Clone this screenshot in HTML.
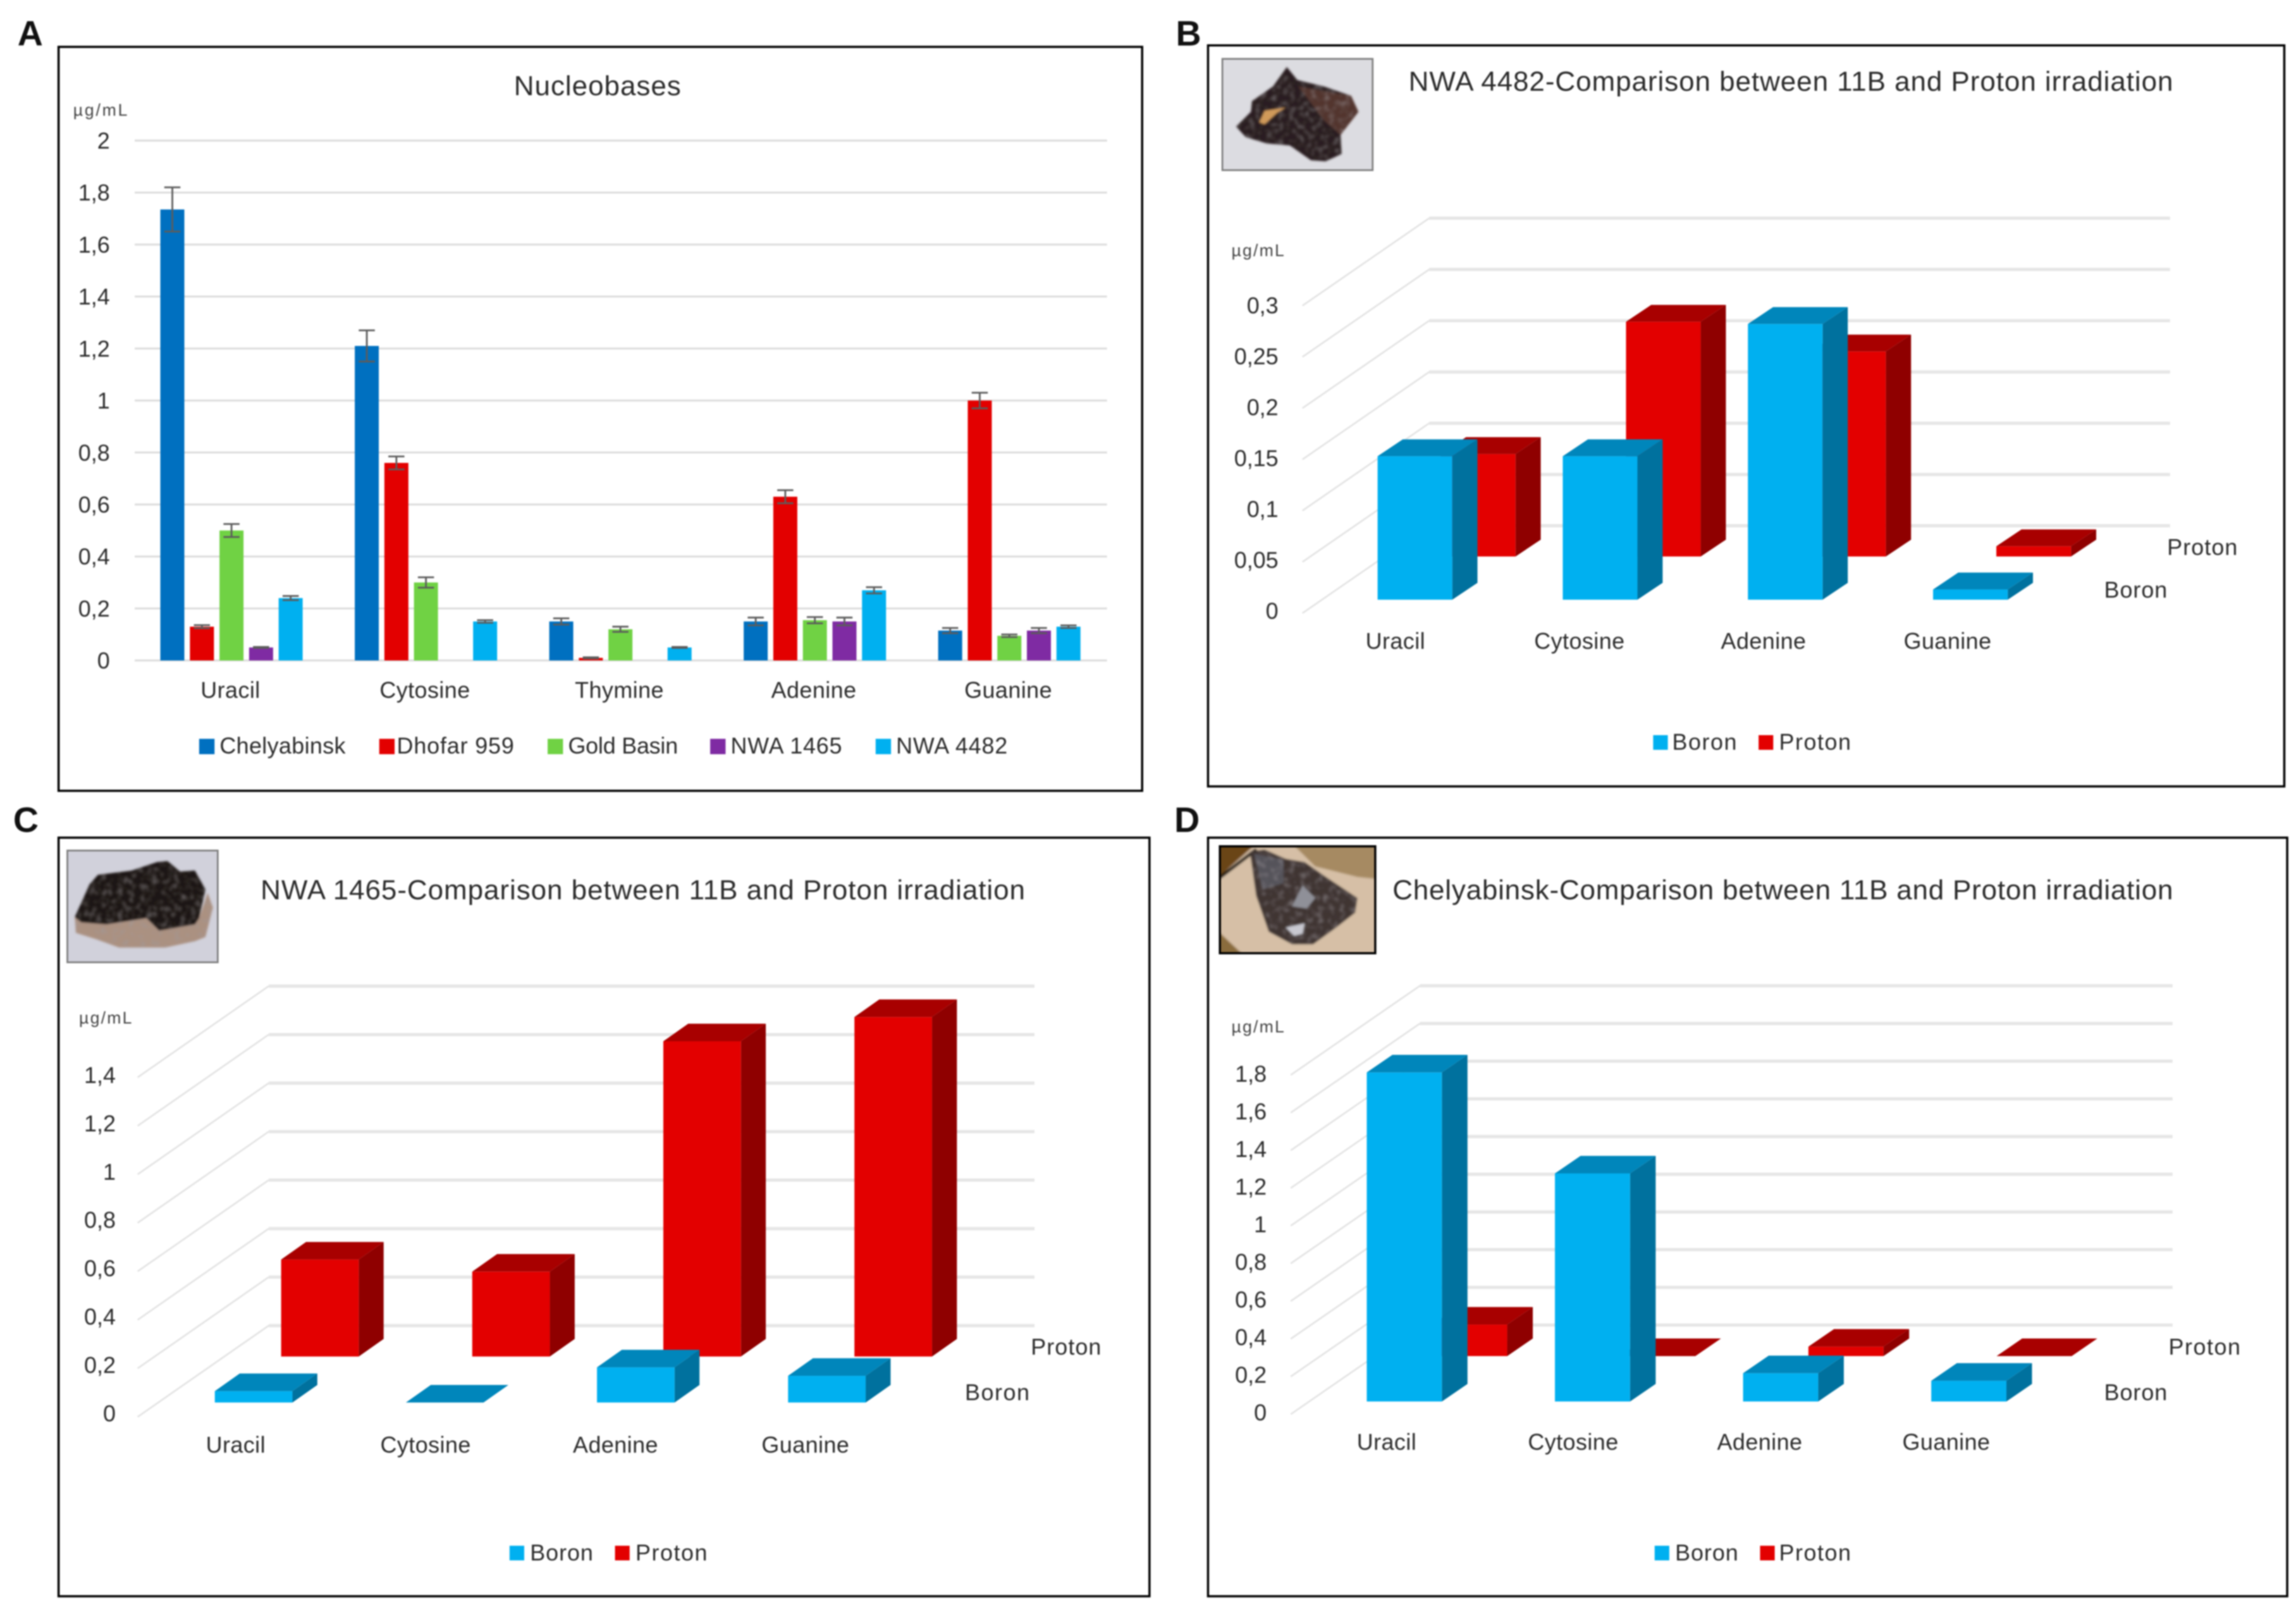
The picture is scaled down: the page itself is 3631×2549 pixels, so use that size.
<!DOCTYPE html>
<html lang="en">
<head>
<meta charset="utf-8">
<title>Nucleobases irradiation charts</title>
<style>
html,body{margin:0;padding:0;background:#fff;width:3631px;height:2549px;overflow:hidden}
svg{display:block;filter:blur(1.1px)}
text{font-family:"Liberation Sans",sans-serif;fill:#2b2b2b}
.letter{font-weight:bold;font-size:24px;fill:#111}
.title{font-size:19px}
.leg{font-size:15.5px}
.unit{font-size:11.5px;fill:#444}
.frame{fill:#fff;stroke:#000;stroke-width:1.5}
</style>
</head>
<body>
<svg id="figure" xmlns="http://www.w3.org/2000/svg" width="3631" height="2549" viewBox="0 0 1568 1100.75">
  <defs>
    <filter id="grain" x="0" y="0" width="100%" height="100%" color-interpolation-filters="sRGB">
      <feTurbulence type="fractalNoise" baseFrequency="0.26" numOctaves="2" seed="3" result="n"/>
      <feColorMatrix in="n" type="matrix" values="0 0 0 0 .62  0 0 0 0 .6  0 0 0 0 .62  1.5 0 0 0 -0.72" result="g"/>
      <feComposite in="g" in2="SourceAlpha" operator="in" result="c"/>
      <feGaussianBlur in="c" stdDeviation="0.5" result="cb"/>
      <feComposite in="cb" in2="SourceAlpha" operator="in" result="cc"/>
      <feMerge><feMergeNode in="SourceGraphic"/><feMergeNode in="cc"/></feMerge>
    </filter>
    <filter id="soft" x="-5%" y="-5%" width="110%" height="110%">
      <feGaussianBlur stdDeviation="0.7"/>
    </filter>
    <clipPath id="clipD"><rect x="833.1" y="577.9" width="106.1" height="73"/></clipPath>
  </defs>
  <rect class="frame" x="40" y="32" width="740" height="508"/>
  <rect class="frame" x="825" y="31" width="735" height="506"/>
  <rect class="frame" x="40" y="572" width="745" height="518"/>
  <rect class="frame" x="825" y="572" width="737" height="518"/>

  <text class="letter" x="12" y="31">A</text>
  <text class="letter" x="803" y="31">B</text>
  <text class="letter" x="9" y="568">C</text>
  <text class="letter" x="802" y="568">D</text>

  <text class="title" x="351" y="65" textLength="114">Nucleobases</text>
  <text class="title" x="962" y="62" textLength="522">NWA 4482-Comparison between 11B and Proton irradiation</text>
  <text class="title" x="178" y="614" textLength="522">NWA 1465-Comparison between 11B and Proton irradiation</text>
  <text class="title" x="951" y="614" textLength="533">Chelyabinsk-Comparison between 11B and Proton irradiation</text>

  <text class="unit" x="50" y="79" textLength="37">µg/mL</text>
  <text class="unit" x="841" y="175" textLength="36">µg/mL</text>
  <text class="unit" x="54" y="699" textLength="36">µg/mL</text>
  <text class="unit" x="841" y="705" textLength="36">µg/mL</text>

  <g>
    <rect x="834.8" y="40.2" width="102.6" height="76" fill="#dcdce1" stroke="#808080" stroke-width="1.2"/>
    <g filter="url(#soft)">
      <g filter="url(#grain)">
        <polygon points="878.8,45.8 886,54.7 904,59 922.7,65.5 927.7,76.3 915.5,92.1 916.2,105.1 905.4,110.1 895.3,109.4 880.9,99.3 865.1,97.9 850.7,93.6 844.2,86.4 854.3,76.3 855,69.1 869.4,59" fill="#2a1f20"/>
        <polygon points="886.7,59 922.7,65.5 927.7,76.3 915.5,92.1 904,82" fill="#52352e"/>
      </g>
      <polygon points="860,83.5 863.6,75.6 878,73.4 872.3,77 863.6,84.9" fill="#d09a5a"/>
    </g>
  </g>
  <g>
    <rect x="46" y="580.8" width="102.7" height="76.3" fill="#d1d1db" stroke="#808080" stroke-width="1.2"/>
    <g filter="url(#soft)">
      <g filter="url(#grain)">
        <polygon points="51.1,626.2 51.8,637 65.5,641.3 81.3,647 113,647 133.1,642.7 140.3,639.8 145.4,619.7 141.8,609.6 136,626.9 108.7,635.5 100,626.9 72.7,631.2" fill="#ab9181"/>
        <polygon points="51.1,626.2 61.2,603.8 66.9,597.4 90,594.5 107.2,588.7 114.4,588 123,595.2 133.1,594.5 140.3,607.4 136,626.9 133.1,631.2 108.7,635.5 100,626.9 72.7,631.2 55.4,629.8" fill="#1e1815"/>
      </g>
    </g>
  </g>
  <g>
    <g clip-path="url(#clipD)">
      <g filter="url(#soft)">
        <rect x="830" y="575" width="112" height="79" fill="#d6bfa6"/>
        <polygon points="882.4,576 940,576 940,600.2 927,598.8 898.2,591.6" fill="#a68a62"/>
        <polygon points="831,576 858,576 831,600" fill="#6b4413"/>
        <line x1="832" y1="600" x2="858" y2="580" stroke="#1a1208" stroke-width="2.2"/>
        <polygon points="832,636 849,652 832,652" fill="#8a6c3e"/>
        <g filter="url(#grain)">
          <polygon points="853.6,581.5 863.6,580.1 878,586.5 891,588.7 905.4,598.8 927,613.2 925.5,623.2 912.6,633.3 896.8,644.8 882.4,644.8 866.5,636.2 857.9,611.7" fill="#3f3432"/>
          <polygon points="856.5,583 876.6,587.3 876.6,603.1 862.2,607.4" fill="#55535a"/>
        </g>
        <polygon points="882.4,618.9 889.6,604.5 898.2,613.2 892.4,620.4" fill="#8f9098"/>
        <polygon points="878,633.3 891,630.4 889.6,637.6 883.8,639.1" fill="#c8c8d0"/>
      </g>
    </g>
    <rect x="833.1" y="577.9" width="106.1" height="73" fill="none" stroke="#000" stroke-width="1.5"/>
  </g>

  <g id="chartA"></g>
  <g id="chartB"></g>
  <g id="chartC"></g>
  <g id="chartD"></g>

  <g>
    <g><rect x="136" y="504.5" width="10.5" height="10.5" fill="#0070c0"/><text class="leg" x="150" y="514.5" textLength="86">Chelyabinsk</text></g>
    <g><rect x="259" y="504.5" width="10.5" height="10.5" fill="#e30000"/><text class="leg" x="271" y="514.5" textLength="80">Dhofar 959</text></g>
    <g><rect x="374" y="504.5" width="10.5" height="10.5" fill="#70d244"/><text class="leg" x="388" y="514.5" textLength="75">Gold Basin</text></g>
    <g><rect x="485" y="504.5" width="10.5" height="10.5" fill="#7f2ba3"/><text class="leg" x="499" y="514.5" textLength="76">NWA 1465</text></g>
    <g><rect x="598" y="504.5" width="10.5" height="10.5" fill="#00b0f0"/><text class="leg" x="612" y="514.5" textLength="76">NWA 4482</text></g>
  </g>
  <g>
    <g><rect x="1129" y="502" width="10" height="10" fill="#00b0f0"/><text class="leg" x="1142" y="512" textLength="44">Boron</text></g>
    <g><rect x="1201" y="502" width="10" height="10" fill="#e30000"/><text class="leg" x="1215" y="512" textLength="49">Proton</text></g>
  </g>
  <g>
    <g><rect x="348" y="1055.5" width="10" height="10" fill="#00b0f0"/><text class="leg" x="362" y="1065.5" textLength="43">Boron</text></g>
    <g><rect x="420" y="1055.5" width="10" height="10" fill="#e30000"/><text class="leg" x="434" y="1065.5" textLength="49">Proton</text></g>
  </g>
  <g>
    <g><rect x="1130" y="1055.5" width="10" height="10" fill="#00b0f0"/><text class="leg" x="1144" y="1065.5" textLength="43">Boron</text></g>
    <g><rect x="1202" y="1055.5" width="10" height="10" fill="#e30000"/><text class="leg" x="1215" y="1065.5" textLength="49">Proton</text></g>
  </g>

  <text class="leg" x="1480" y="379" textLength="48">Proton</text>
  <text class="leg" x="1437" y="408" textLength="43">Boron</text>
  <text class="leg" x="704" y="925" textLength="48">Proton</text>
  <text class="leg" x="659" y="956" textLength="44">Boron</text>
  <text class="leg" x="1481" y="925" textLength="49">Proton</text>
  <text class="leg" x="1437" y="956" textLength="43">Boron</text>
</svg>
<script>
// ---------- Panel A data ----------
const nucleobaseCategories = ['Uracil', 'Cytosine', 'Thymine', 'Adenine', 'Guanine'];
const nucleobaseTickLabels = ['0', '0,2', '0,4', '0,6', '0,8', '1', '1,2', '1,4', '1,6', '1,8', '2'];
const nucleobaseTickValues = [0, 0.2, 0.4, 0.6, 0.8, 1, 1.2, 1.4, 1.6, 1.8, 2];
const chelyabinskValues = [1.735, 1.21, 0.15, 0.15, 0.115];
const dhofarValues = [0.13, 0.76, 0.01, 0.63, 1.0];
const goldBasinValues = [0.5, 0.3, 0.12, 0.155, 0.095];
const nwa1465Values = [0.05, 0, 0, 0.15, 0.115];
const nwa4482Values = [0.24, 0.15, 0.05, 0.27, 0.13];
const chelyabinskErrors = [0.085, 0.06, 0.012, 0.015, 0.01];
const dhofarErrors = [0.006, 0.025, 0.002, 0.025, 0.03];
const goldBasinErrors = [0.025, 0.02, 0.01, 0.012, 0.005];
const nwa1465Errors = [0.002, 0, 0, 0.015, 0.01];
const nwa4482Errors = [0.008, 0.005, 0.002, 0.012, 0.005];

// ---------- Panel B data ----------
const panelBCategories = ['Uracil', 'Cytosine', 'Adenine', 'Guanine'];
const panelBBoron = [0.14, 0.14, 0.269, 0.01];
const panelBProton = [0.1, 0.229, 0.2, 0.01];
const panelBTickLabels = ['0', '0,05', '0,1', '0,15', '0,2', '0,25', '0,3'];
const panelBTickValues = [0, 0.05, 0.1, 0.15, 0.2, 0.25, 0.3];

// ---------- Panel C data ----------
const panelCCategories = ['Uracil', 'Cytosine', 'Adenine', 'Guanine'];
const panelCBoron = [0.047, 0, 0.145, 0.11];
const panelCProton = [0.4, 0.35, 1.3, 1.4];
const panelCTickLabels = ['0', '0,2', '0,4', '0,6', '0,8', '1', '1,2', '1,4'];
const panelCTickValues = [0, 0.2, 0.4, 0.6, 0.8, 1, 1.2, 1.4];

// ---------- Panel D data ----------
const panelDCategories = ['Uracil', 'Cytosine', 'Adenine', 'Guanine'];
const panelDBoron = [1.746, 1.21, 0.15, 0.11];
const panelDProton = [0.167, 0, 0.05, 0];
const panelDTickLabels = ['0', '0,2', '0,4', '0,6', '0,8', '1', '1,2', '1,4', '1,6', '1,8'];
const panelDTickValues = [0, 0.2, 0.4, 0.6, 0.8, 1, 1.2, 1.4, 1.6, 1.8];

const NS = 'http://www.w3.org/2000/svg';
function add(parent, tag, attrs, txt) {
  const el = document.createElementNS(NS, tag);
  for (const k in attrs) el.setAttribute(k, attrs[k]);
  if (txt !== undefined) el.textContent = txt;
  parent.appendChild(el);
  return el;
}
function slug(s) { return String(s).toLowerCase().replace(/[^a-z0-9]+/g, '-'); }

// ---------- Panel A: clustered bars with error bars ----------
(function () {
  const root = document.getElementById('chartA');
  const series = [
    { name: 'chelyabinsk', color: '#0070c0', values: chelyabinskValues, errors: chelyabinskErrors },
    { name: 'dhofar-959', color: '#e30000', values: dhofarValues, errors: dhofarErrors },
    { name: 'gold-basin', color: '#70d244', values: goldBasinValues, errors: goldBasinErrors },
    { name: 'nwa-1465', color: '#7f2ba3', values: nwa1465Values, errors: nwa1465Errors },
    { name: 'nwa-4482', color: '#00b0f0', values: nwa4482Values, errors: nwa4482Errors }
  ];
  const plotLeft = 92, plotRight = 756, y0 = 451, unit = 177.5;
  const period = (plotRight - plotLeft) / nucleobaseCategories.length;
  const yScale = v => y0 - v * unit;
  const xScale = (c, s) => plotLeft + 17.5 + c * period + s * 20.2;

  nucleobaseTickValues.forEach((v, i) => {
    const line = add(root, 'line', { x1: plotLeft, x2: plotRight, y1: yScale(v), y2: yScale(v), stroke: '#dcdcdc', 'stroke-width': 1.3 });
    
    
    const label = add(root, 'text', { x: 75, y: yScale(v) + 5.5, 'text-anchor': 'end', 'font-size': 15.5 }, nucleobaseTickLabels[i]);
    
    
  });
  nucleobaseCategories.forEach((cat, c) => {
    const label = add(root, 'text', { x: plotLeft + period * (c + 0.5) - 1, y: 476.5, 'text-anchor': 'middle', 'font-size': 15.5, 'letter-spacing': 0.2 }, cat);
    
    
    series.forEach((s, si) => {
      const v = s.values[c], e = s.errors[c], x = xScale(c, si), w = 16.4;
      if (v <= 0) return;
      const bar = add(root, 'rect', { x: x, y: yScale(v), width: w, height: y0 - yScale(v), fill: s.color });
      
      
      if (e > 0) {
        const cx = x + w / 2;
        const err = add(root, 'path', {
          d: 'M' + cx + ' ' + yScale(v + e) + 'V' + yScale(v - e) +
             'M' + (cx - 5.5) + ' ' + yScale(v + e) + 'H' + (cx + 5.5) +
             'M' + (cx - 5.5) + ' ' + yScale(v - e) + 'H' + (cx + 5.5),
          stroke: '#5c5c5c', 'stroke-width': 1.2, fill: 'none'
        });
        
        
      }
    });
  });
})();

// ---------- Panels B, C, D: 3D clustered bars ----------
const boronFaces = { front: '#00b0f0', top: '#0086bb', side: '#00719e' };
const protonFaces = { front: '#e30000', top: '#a80000', side: '#8f0000' };

function draw3D(id, cfg, cats, boron, proton, tickVals, tickLabels) {
  const root = document.getElementById(id);
  const yFront = v => cfg.frontY0 - v * cfg.unit;
  const yBack = v => cfg.backY0 - v * cfg.unit;
  const xBoron = i => cfg.boronX + i * cfg.period;
  const xProton = i => cfg.protonX + i * cfg.period;

  tickVals.forEach((v, i) => {
    const back = add(root, 'line', { x1: cfg.backX, x2: cfg.rightX, y1: yBack(v), y2: yBack(v), stroke: '#e6e6e6', 'stroke-width': 2.2 });
    
    
    const diag = add(root, 'line', { x1: cfg.frontX, x2: cfg.backX, y1: yFront(v), y2: yBack(v), stroke: '#e2e2e2', 'stroke-width': 1.1 });
    
    
    const label = add(root, 'text', { x: cfg.tickX, y: cfg.labelY0 - v * cfg.labelUnit + 5.5, 'text-anchor': 'end', 'font-size': 15.5 }, tickLabels[i]);
    
    
  });

  function bar(x, base, v, faces, nameBase) {
    const w = cfg.barW, dx = cfg.dx, dy = cfg.dy, h = v * cfg.unit, t = base - h;
    const g = add(root, 'g', {});
    
    
    if (h > 0) {
      add(g, 'polygon', { points: [[x + w, base], [x + w + dx, base + dy], [x + w + dx, t + dy], [x + w, t]].join(' '), fill: faces.side });
      add(g, 'rect', { x: x, y: t, width: w, height: h, fill: faces.front });
    }
    add(g, 'polygon', { points: [[x, t], [x + dx, t + dy], [x + w + dx, t + dy], [x + w, t]].join(' '), fill: faces.top });
  }
  proton.forEach((v, i) => bar(xProton(i), cfg.protonBase, v, protonFaces, 'bar-proton-' + slug(cats[i])));
  boron.forEach((v, i) => bar(xBoron(i), cfg.boronBase, v, boronFaces, 'bar-boron-' + slug(cats[i])));

  cats.forEach((cat, i) => {
    const label = add(root, 'text', { x: cfg.catX + i * cfg.catStep, y: cfg.catY, 'text-anchor': 'middle', 'font-size': 15.5, 'letter-spacing': 0.2 }, cat);
    
    
  });
}

draw3D('chartB', {
  frontX: 889.5, backX: 976, rightX: 1482, frontY0: 418.7, backY0: 359, unit: 700,
  boronX: 940.8, protonX: 984, period: 126.45, barW: 51, dx: 17.2, dy: -11.5,
  boronBase: 409.5, protonBase: 380, tickX: 873, labelY0: 417, labelUnit: 695,
  catX: 953, catStep: 125.7, catY: 443
}, panelBCategories, panelBBoron, panelBProton, panelBTickValues, panelBTickLabels);

draw3D('chartC', {
  frontX: 94, backX: 183.5, rightX: 706.5, frontY0: 967.5, backY0: 905.2, unit: 165.6,
  boronX: 146.7, protonX: 192, period: 130.5, barW: 53, dx: 17, dy: -12,
  boronBase: 957.7, protonBase: 926.3, tickX: 79, labelY0: 965, labelUnit: 165,
  catX: 161, catStep: 129.7, catY: 992
}, panelCCategories, panelCBoron, panelCProton, panelCTickValues, panelCTickLabels);

draw3D('chartD', {
  frontX: 881.5, backX: 969.7, rightX: 1483.7, frontY0: 965.7, backY0: 904.8, unit: 128.7,
  boronX: 933.4, protonX: 978, period: 128.5, barW: 51.3, dx: 17.5, dy: -12,
  boronBase: 957, protonBase: 926, tickX: 865, labelY0: 964.5, labelUnit: 128.5,
  catX: 947, catStep: 127.4, catY: 990
}, panelDCategories, panelDBoron, panelDProton, panelDTickValues, panelDTickLabels);
</script>
</body>
</html>
